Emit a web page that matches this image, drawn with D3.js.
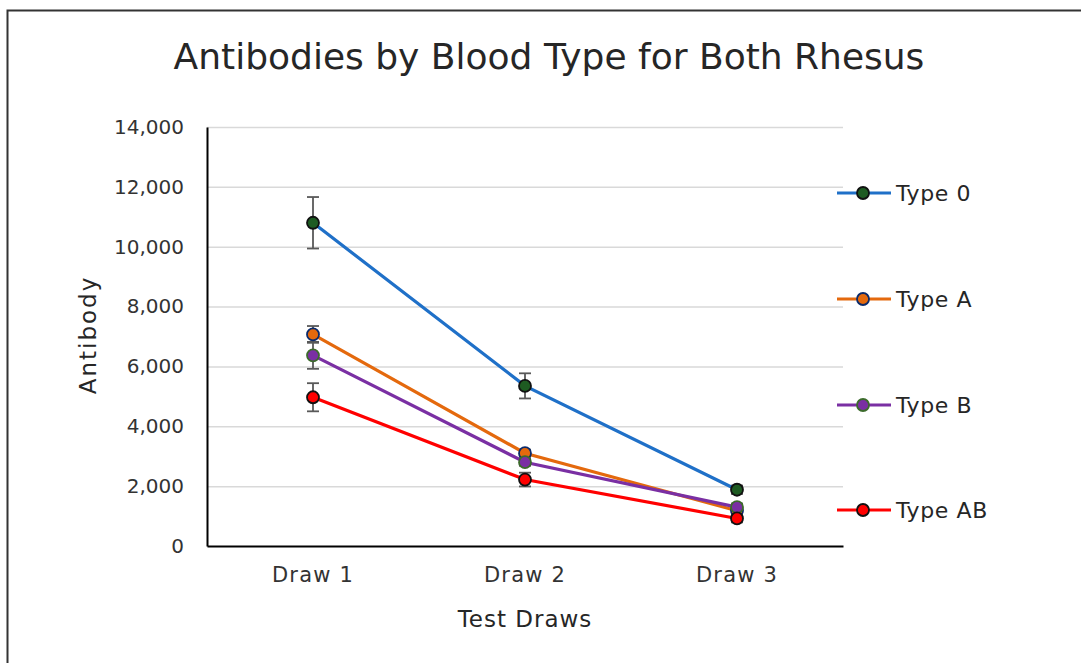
<!DOCTYPE html>
<html>
<head>
<meta charset="utf-8">
<script src="https://cdn.jsdelivr.net/npm/d3@7"></script>
<style>
  body { margin: 0; background: #fff; }
  svg text { font-family: "DejaVu Sans", sans-serif; fill: #262626; }
</style>
</head>
<body>
<script>
// data
var draws = ["Draw 1", "Draw 2", "Draw 3"];
var seriesNames = ["Type 0", "Type A", "Type B", "Type AB"];
var type0 = [10800, 5350, 1880];
var typeA = [7070, 3100, 1180];
var typeB = [6370, 2800, 1300];
var typeAB = [4970, 2220, 920];
var err0 = [860, 420, 140];
var errA = [280, 120, 120];
var errB = [450, 120, 120];
var errAB = [470, 230, 130];
var yTicks = [0, 2000, 4000, 6000, 8000, 10000, 12000, 14000];

var lineColors = ["#1f70c8", "#e4690d", "#7a2fa3", "#ff0000"];
var markerFill = ["#1e5b22", "#e4690d", "#7a2fa3", "#ff0000"];
var markerStroke = ["#111111", "#0a2a6b", "#3c6b2c", "#111111"];

var width = 1081,
    height = 663;

var svg = d3.select("body").append("svg")
    .attr("width", width)
    .attr("height", height);

// outer frame
svg.append("rect")
    .attr("x", 7.5).attr("y", 10.5)
    .attr("width", 1090).attr("height", 700)
    .attr("fill", "none")
    .attr("stroke", "#333").attr("stroke-width", 2);

var plot = {left: 207, right: 843, top: 127, bottom: 546};

var x = d3.scaleBand()
    .domain(draws)
    .range([plot.left, plot.right]);

var y = d3.scaleLinear()
    .domain([0, 14000])
    .range([plot.bottom, plot.top]);

// gridlines
svg.append("g")
    .selectAll("line")
    .data(yTicks.filter(function (t) { return t > 0; }))
    .enter().append("line")
    .attr("x1", plot.left).attr("x2", plot.right)
    .attr("y1", function (d) { return y(d) + 0.5; })
    .attr("y2", function (d) { return y(d) + 0.5; })
    .attr("stroke", "#d9d9d9").attr("stroke-width", 1.5);

// axes
var yAxis = svg.append("g")
    .attr("transform", "translate(" + plot.left + ",0)")
    .call(d3.axisLeft(y).tickValues(yTicks).tickSize(0).tickPadding(23)
        .tickFormat(d3.format(",")));
yAxis.attr("font-family", null).attr("font-size", null);
yAxis.select(".domain").attr("stroke", "#000").attr("stroke-width", 2);
yAxis.selectAll("text").style("font-size", "20px").style("fill", "#333");

var xAxis = svg.append("g")
    .attr("transform", "translate(0," + plot.bottom + ")")
    .call(d3.axisBottom(x).tickSize(0).tickPadding(21));
xAxis.attr("font-family", null).attr("font-size", null);
xAxis.select(".domain").attr("stroke", "#000").attr("stroke-width", 2);
xAxis.selectAll("text").style("font-size", "21px").style("letter-spacing", "1.2px").style("fill", "#333");

// titles
svg.append("text")
    .attr("x", 549).attr("y", 69)
    .attr("text-anchor", "middle")
    .style("font-size", "36px")
    .text("Antibodies by Blood Type for Both Rhesus");

svg.append("text")
    .attr("x", 525).attr("y", 627)
    .attr("text-anchor", "middle")
    .style("font-size", "23px")
    .style("letter-spacing", "1px")
    .text("Test Draws");

svg.append("text")
    .attr("transform", "translate(96,335) rotate(-90)")
    .attr("text-anchor", "middle")
    .style("font-size", "23px")
    .style("letter-spacing", "2px")
    .text("Antibody");

var allValues = [type0, typeA, typeB, typeAB];
var allErr = [err0, errA, errB, errAB];

var cx = function (i) { return x(draws[i]) + x.bandwidth() / 2; };

var line = d3.line()
    .x(function (d, i) { return cx(i); })
    .y(function (d) { return y(d); });

// error bars
allValues.forEach(function (vals, s) {
    var g = svg.append("g");
    vals.forEach(function (v, i) {
        var e = allErr[s][i];
        g.append("line")
            .attr("x1", cx(i)).attr("x2", cx(i))
            .attr("y1", y(v + e)).attr("y2", y(v - e))
            .attr("stroke", "#595959").attr("stroke-width", 1.8);
        [v + e, v - e].forEach(function (c) {
            g.append("line")
                .attr("x1", cx(i) - 6).attr("x2", cx(i) + 6)
                .attr("y1", y(c)).attr("y2", y(c))
                .attr("stroke", "#595959").attr("stroke-width", 1.8);
        });
    });
});

// lines and markers
allValues.forEach(function (vals, s) {
    svg.append("path")
        .datum(vals)
        .attr("d", line)
        .attr("fill", "none")
        .attr("stroke", lineColors[s])
        .attr("stroke-width", 3.2);
});
allValues.forEach(function (vals, s) {
    svg.append("g").selectAll("circle")
        .data(vals)
        .enter().append("circle")
        .attr("cx", function (d, i) { return cx(i); })
        .attr("cy", function (d) { return y(d); })
        .attr("r", 6)
        .attr("fill", markerFill[s])
        .attr("stroke", markerStroke[s])
        .attr("stroke-width", 1.8);
});

// legend
var legendY = [193, 299, 405, 510];
var legend = svg.append("g");
seriesNames.forEach(function (name, s) {
    var ly = legendY[s];
    legend.append("line")
        .attr("x1", 837).attr("x2", 891)
        .attr("y1", ly).attr("y2", ly)
        .attr("stroke", lineColors[s]).attr("stroke-width", 3.2);
    legend.append("circle")
        .attr("cx", 863).attr("cy", ly).attr("r", 6)
        .attr("fill", markerFill[s])
        .attr("stroke", markerStroke[s]).attr("stroke-width", 1.8);
    legend.append("text")
        .attr("x", 896).attr("y", ly + 8)
        .style("font-size", "22px")
        .style("letter-spacing", "0.6px")
        .text(name);
});
</script>
</body>
</html>
